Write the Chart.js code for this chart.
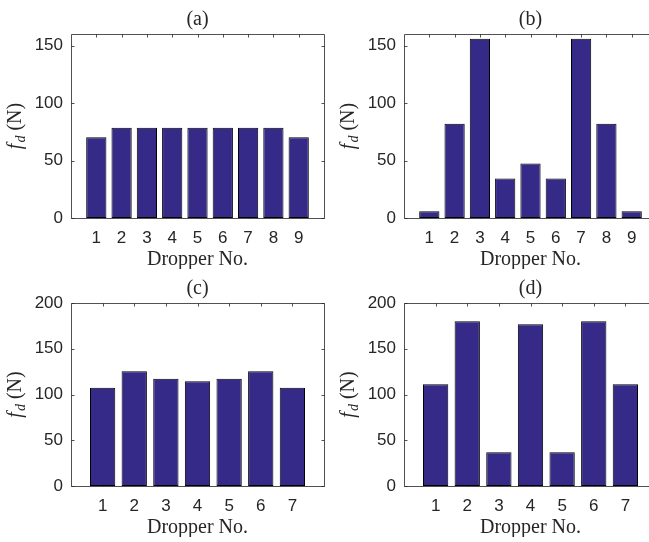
<!DOCTYPE html>
<html>
<head>
<meta charset="utf-8">
<title>Dropper forces</title>
<script src="https://cdn.jsdelivr.net/npm/chart.js@4.4.1/dist/chart.umd.min.js"></script>
<style>
  html, body { margin: 0; padding: 0; background: #fff; overflow: hidden; width: 649px; height: 542px; }
  canvas { position: absolute; }
</style>
</head>
<body>
<canvas id="panel-a" width="330" height="269" style="left:0;top:0"></canvas>
<canvas id="panel-b" width="330" height="269" style="left:333px;top:0"></canvas>
<canvas id="panel-c" width="330" height="268" style="left:0;top:269px"></canvas>
<canvas id="panel-d" width="330" height="268" style="left:333px;top:269px"></canvas>
<script>
// dropper numbers along each span
const droppersNine = [1, 2, 3, 4, 5, 6, 7, 8, 9];
const droppersSeven = [1, 2, 3, 4, 5, 6, 7];

// dropper force f_d in N
const forceA = [70.3, 78.4, 78.4, 78.4, 78.4, 78.4, 78.4, 78.4, 70.3];
const forceB = [5.8, 81.9, 155.8, 34.4, 47.4, 34.4, 155.8, 81.9, 5.8];
const forceC = [107.4, 125.3, 117.2, 114.4, 117.2, 125.3, 107.4];
const forceD = [111.1, 180.1, 37.0, 176.8, 37.0, 180.1, 111.1];

// y tick labels
const yTicksNine = [0, 50, 100, 150];
const yTicksSeven = [0, 50, 100, 150, 200];

const barColor = '#352a87';
const inkColor = '#262626';
const axisColor = 'rgba(38,38,38,0.8)';
const sansFont = '"Liberation Sans", Arial, sans-serif';
const serifFont = '"Liberation Serif", "Times New Roman", serif';

// box around the axes, inward ticks on all four sides, and the f_d (N) label
const boxPlugin = {
  id: 'axesBox',
  beforeDatasetsDraw(chart) {
    const { ctx, chartArea: a, scales: { x, y } } = chart;
    const tl = 3;
    ctx.save();
    ctx.strokeStyle = axisColor;
    ctx.lineWidth = 1;
    ctx.beginPath();
    const L = Math.round(a.left) + 0.5, R = Math.round(a.right) + 0.5;
    const T = Math.round(a.top) + 0.5, B = Math.round(a.bottom) + 0.5;
    ctx.rect(L, T, R - L, B - T);
    x.ticks.forEach(t => {
      const px = Math.round(x.getPixelForValue(t.value)) + 0.5;
      ctx.moveTo(px, T); ctx.lineTo(px, T + tl);
      ctx.moveTo(px, B); ctx.lineTo(px, B - tl);
    });
    y.ticks.forEach(t => {
      const py = Math.round(y.getPixelForValue(t.value)) + 0.5;
      ctx.moveTo(L, py); ctx.lineTo(L + tl, py);
      ctx.moveTo(R, py); ctx.lineTo(R - tl, py);
    });
    ctx.stroke();
    ctx.restore();
  },
  afterDraw(chart) {
    const { ctx, chartArea: a } = chart;
    const mainFont = 'italic 20px ' + serifFont;
    const subFont = 'italic 14px ' + serifFont;
    const rest = ' (N)';
    ctx.save();
    ctx.fillStyle = inkColor;
    ctx.textBaseline = 'alphabetic';
    ctx.font = mainFont;
    const wf = ctx.measureText('f').width + 1;
    ctx.font = subFont;
    const wd = ctx.measureText('d').width;
    ctx.font = '20px ' + serifFont;
    const wr = ctx.measureText(rest).width;
    const total = wf + wd + wr;
    ctx.translate(21, (a.top + a.bottom) / 2);
    ctx.rotate(-Math.PI / 2);
    let u = -total / 2;
    ctx.font = mainFont;
    ctx.fillText('f', u, 0);
    u += wf;
    ctx.font = subFont;
    ctx.fillText('d', u, 4);
    u += wd;
    ctx.font = '20px ' + serifFont;
    ctx.fillText(rest, u, 0);
    ctx.restore();
  }
};

function makePanel(id, letter, droppers, forces, yTicks, yMax) {
  new Chart(document.getElementById(id), {
    type: 'bar',
    data: {
      datasets: [{
        data: droppers.map((d, i) => ({ x: d, y: forces[i] })),
        backgroundColor: barColor,
        borderColor: '#000',
        borderWidth: 1,
        borderSkipped: false,
        categoryPercentage: 0.8,
        barPercentage: 1
      }]
    },
    options: {
      responsive: false,
      animation: false,
      layout: { padding: { left: 0, right: 6, top: 0, bottom: 0 } },
      plugins: {
        legend: { display: false },
        tooltip: { enabled: false },
        title: {
          display: true,
          fullSize: false,
          text: letter,
          color: inkColor,
          font: { family: serifFont, size: 20, weight: 'normal', lineHeight: 1.2 },
          padding: { top: 8, bottom: 2 }
        }
      },
      scales: {
        x: {
          type: 'linear',
          offset: false,
          min: 0,
          max: droppers.length + 1,
          grid: { display: false, drawTicks: false, offset: false },
          border: { display: false },
          afterBuildTicks: s => { s.ticks = droppers.map(v => ({ value: v })); },
          afterFit: s => { s.height = 51; },
          ticks: {
            color: inkColor,
            padding: 10,
            font: { family: sansFont, size: 17 },
            callback: v => String(v)
          },
          title: {
            display: true,
            text: 'Dropper No.',
            color: inkColor,
            font: { family: serifFont, size: 20, lineHeight: 0.9 },
            padding: { top: 0, bottom: 0 }
          }
        },
        y: {
          min: 0,
          max: yMax,
          grid: { display: false, drawTicks: false },
          border: { display: false },
          afterBuildTicks: s => { s.ticks = yTicks.map(v => ({ value: v })); },
          afterFit: s => { s.width = 71; },
          ticks: {
            color: inkColor,
            padding: 8,
            font: { family: sansFont, size: 17 },
            callback: v => String(v)
          }
        }
      }
    },
    plugins: [boxPlugin]
  });
}

makePanel('panel-a', '(a)', droppersNine, forceA, yTicksNine, 160);
makePanel('panel-b', '(b)', droppersNine, forceB, yTicksNine, 160);
makePanel('panel-c', '(c)', droppersSeven, forceC, yTicksSeven, 200);
makePanel('panel-d', '(d)', droppersSeven, forceD, yTicksSeven, 200);
</script>
</body>
</html>
